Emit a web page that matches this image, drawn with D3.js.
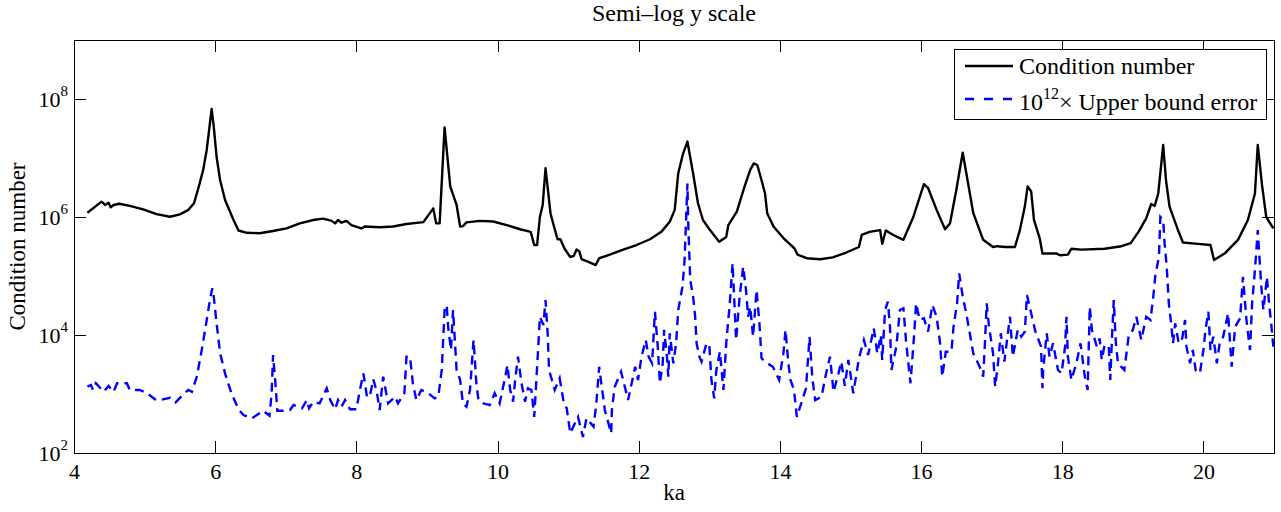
<!DOCTYPE html>
<html lang="en">
<head>
<meta charset="UTF-8">
<title>Semi-log y scale</title>
<script src="https://cdn.jsdelivr.net/npm/d3@7"></script>
<style>
	body { margin: 0; background: #fff; }
	svg { display: block; font-family: "Liberation Serif", "Times New Roman", serif; }
	.axis path, .axis line { stroke: #000; shape-rendering: crispEdges; }
	.axis text { font-size: 22px; fill: #000; font-family: "Liberation Serif", serif; }
</style>
</head>
<body>
<script>
	// condition number
	const kaCond = [4.19,4.39,4.44,4.49,4.52,4.56,4.64,4.79,4.98,5.17,
		5.36,5.50,5.62,5.70,5.74,5.78,5.83,5.88,5.92,5.95,
		5.98,6.02,6.07,6.14,6.26,6.33,6.45,6.63,6.82,7.01,
		7.20,7.39,7.53,7.65,7.70,7.74,7.79,7.86,7.93,8.07,
		8.12,8.33,8.52,8.71,8.95,9.09,9.13,9.18,9.25,9.33,
		9.42,9.47,9.51,9.56,9.75,9.94,10.13,10.32,10.47,10.52,
		10.56,10.60,10.64,10.68,10.72,10.75,10.80,10.85,10.89,10.95,
		11.03,11.08,11.12,11.16,11.19,11.28,11.39,11.44,11.59,11.78,
		11.97,12.16,12.32,12.44,12.51,12.56,12.63,12.69,12.77,12.84,
		12.91,13.01,13.14,13.24,13.27,13.39,13.50,13.58,13.63,13.68,
		13.74,13.79,13.82,13.91,14.05,14.21,14.25,14.38,14.57,14.75,
		14.94,15.12,15.16,15.27,15.42,15.45,15.50,15.60,15.75,15.89,
		16.04,16.10,16.22,16.34,16.41,16.50,16.59,16.65,16.74,16.88,
		17.02,17.08,17.19,17.33,17.40,17.47,17.51,17.56,17.60,17.68,
		17.72,17.92,17.97,18.08,18.13,18.27,18.60,18.84,18.97,19.08,
		19.19,19.26,19.31,19.36,19.43,19.47,19.52,19.64,19.71,19.92,
		20.10,20.15,20.30,20.49,20.63,20.73,20.77,20.83,20.89,20.99];
	const condNumber = [1.18e6,1.82e6,1.6e6,1.75e6,1.46e6,1.6e6,1.68e6,1.54e6,1.35e6,1.12e6,
		1.01e6,1.11e6,1.32e6,1.71e6,2.5e6,3.7e6,6.3e6,1.37e7,3.4e7,6.8e7,
		3.4e7,1.05e7,4.2e6,1.94e6,8.9e5,5.9e5,5.4e5,5.3e5,5.8e5,6.4e5,
		7.8e5,8.9e5,9.4e5,8.6e5,7.8e5,8.9e5,8.0e5,8.6e5,7.3e5,6.4e5,
		6.9e5,6.7e5,6.9e5,7.6e5,8.2e5,1.4e6,7.8e5,7.8e5,3.3e7,3.3e6,
		1.6e6,6.9e5,7.0e5,8.1e5,8.6e5,8.4e5,7.3e5,6.2e5,5.6e5,3.35e5,
		3.35e5,1.0e6,1.6e6,6.7e6,2.5e6,1.16e6,6.9e5,4.2e5,4.2e5,2.9e5,
		2.1e5,2.2e5,2.8e5,2.6e5,1.94e5,1.75e5,1.53e5,2.0e5,2.3e5,2.8e5,
		3.35e5,4.2e5,5.6e5,8.3e5,1.32e6,5.5e6,1.2e7,1.9e7,5.5e6,1.71e6,
		8.9e5,6.0e5,3.8e5,4.6e5,7.3e5,1.23e6,3.3e6,6.3e6,8.1e6,7.6e6,
		4.2e6,2.5e6,1.16e6,6.9e5,4.4e5,2.9e5,2.3e5,2.0e5,1.92e5,2.07e5,
		2.5e5,3.1e5,5.0e5,5.6e5,6.0e5,3.5e5,5.9e5,5.0e5,4.1e5,1.0e6,
		3.6e6,3.1e6,1.32e6,6.2e5,7.8e5,2.9e6,1.23e7,4.8e6,1.16e6,4.1e5,
		3.1e5,3.2e5,3.1e5,3.1e5,6.0e5,1.5e6,3.3e6,2.7e6,8.9e5,4.4e5,
		2.4e5,2.4e5,2.25e5,2.3e5,2.9e5,2.8e5,2.9e5,3.2e5,3.6e5,5.6e5,
		9.5e5,1.66e6,1.54e6,2.5e6,1.66e7,4.2e6,1.5e6,6.0e5,3.7e5,3.5e5,
		3.35e5,1.87e5,2.4e5,4.1e5,8.9e5,2.5e6,1.66e7,3.5e6,1.0e6,6.4e5];

	// 10^12 x upper bound error
	const kaErr = [4.19,4.24,4.27,4.31,4.42,4.49,4.56,4.61,4.75,4.79,4.84,4.93,5.03,5.16,5.26,5.36,5.44,5.57,5.62,5.67,
		5.74,5.81,5.88,5.93,5.96,5.98,6.02,6.07,6.14,6.23,6.33,6.40,6.52,6.59,6.68,6.77,6.80,6.82,6.85,6.88,
		6.96,7.06,7.11,7.23,7.30,7.33,7.39,7.48,7.58,7.63,7.70,7.74,7.79,7.84,7.91,8.00,8.05,8.10,8.15,8.19,
		8.24,8.29,8.33,8.38,8.45,8.55,8.59,8.68,8.71,8.76,8.80,8.85,8.92,9.02,9.11,9.16,9.21,9.25,9.28,9.30,
		9.34,9.37,9.42,9.47,9.51,9.56,9.61,9.66,9.70,9.73,9.80,9.89,9.96,10.03,10.10,10.14,10.18,10.22,10.25,10.29,
		10.34,10.39,10.43,10.48,10.52,10.55,10.58,10.60,10.65,10.68,10.71,10.73,10.81,10.88,10.94,10.98,11.03,11.14,11.21,11.26,
		11.36,11.40,11.44,11.47,11.52,11.61,11.62,11.66,11.75,11.85,11.90,11.95,11.99,12.04,12.10,12.14,12.19,12.23,12.27,12.30,
		12.34,12.36,12.40,12.42,12.44,12.49,12.53,12.56,12.62,12.65,12.69,12.70,12.73,12.77,12.80,12.82,12.86,12.89,12.96,13.00,
		13.03,13.07,13.10,13.15,13.20,13.24,13.29,13.33,13.38,13.43,13.48,13.52,13.55,13.58,13.62,13.67,13.71,13.74,13.81,13.90,
		13.99,14.05,14.08,14.12,14.15,14.20,14.24,14.31,14.37,14.42,14.46,14.50,14.59,14.65,14.71,14.76,14.83,14.87,14.92,14.97,
		15.04,15.12,15.19,15.25,15.33,15.38,15.43,15.45,15.49,15.53,15.56,15.58,15.65,15.70,15.75,15.79,15.85,15.90,15.93,15.98,
		16.04,16.10,16.16,16.22,16.27,16.30,16.35,16.43,16.46,16.51,16.54,16.59,16.64,16.69,16.74,16.83,16.88,16.90,16.93,16.96,
		17.02,17.05,17.09,17.13,17.18,17.23,17.26,17.30,17.37,17.42,17.47,17.50,17.56,17.62,17.70,17.72,17.73,17.78,17.82,17.87,
		17.94,17.99,18.04,18.06,18.08,18.13,18.20,18.26,18.32,18.36,18.39,18.42,18.49,18.53,18.56,18.60,18.66,18.68,18.71,18.73,
		18.76,18.79,18.88,18.91,18.94,19.00,19.05,19.12,19.19,19.25,19.29,19.32,19.37,19.39,19.43,19.45,19.48,19.51,19.54,19.57,
		19.60,19.65,19.70,19.74,19.76,19.81,19.85,19.89,19.95,20.00,20.03,20.07,20.10,20.14,20.19,20.23,20.28,20.33,20.35,20.40,
		20.45,20.52,20.56,20.61,20.66,20.69,20.73,20.77,20.79,20.82,20.85,20.90,20.93,20.96,20.99];
	const errBound = [1330,1420,1170,1520,1090,1370,1090,1520,1520,1170,1170,1170,1050,790,810,865,720,1050,1170,1090,
		1970,5570,1.8e4,4.2e4,6.2e4,4.5e4,1.58e4,4890,2240,1030,550,440,387,440,520,430,1030,4580,1730,520,
		520,535,650,573,790,573,740,695,1250,790,550,790,610,790,550,550,1170,2240,900,900,
		1780,1090,535,1970,695,900,695,1030,4290,4290,1520,790,1170,1030,845,900,2550,2.65e4,3.2e4,1.38e4,
		5570,2.65e4,2550,1730,695,610,1170,8230,1520,790,695,650,1030,695,1730,3100,1170,740,1730,4290,
		1520,740,1250,1170,410,1730,7230,2.04e4,1.48e4,3.9e4,1.07e4,2550,1170,1850,695,573,216,410,187,387,
		280,695,2900,1520,535,216,535,1330,2390,790,1520,2900,1730,4290,8230,4290,3310,2.48e4,6340,1520,
		3310,1.22e4,4290,1970,1.07e4,3310,7230,2.65e4,6.6e4,1.87e5,3.7e6,8.9e5,8.6e4,4.5e4,2.04e4,7230,4290,3530,7230,6770,
		1730,845,2550,5210,1170,7230,3.44e4,1.64e5,8230,4.5e4,1.44e5,5.8e4,2.04e4,3.0e4,9350,5.8e4,1.58e4,4030,3390,2900,
		1730,4890,1.22e4,3310,1730,1170,410,740,1250,9350,1850,790,900,2100,4290,1090,2240,3530,1370,3770,
		1030,4030,8230,4580,1.3e4,4890,1.0e4,3770,2.65e4,3.66e4,1.38e4,2550,6340,2.65e4,2.84e4,7230,1520,9350,3.44e4,1.8e4,
		1.92e4,1.14e4,3.22e4,2.04e4,7230,1970,5210,5210,1.38e4,3.44e4,1.11e5,4.5e4,2.33e4,1.07e4,4890,2900,1970,5570,3.44e4,1.48e4,
		4890,1330,3310,1.07e4,3530,1.07e4,2.04e4,4290,1.22e4,9350,1.14e4,4.76e4,2.33e4,1.14e4,6340,1250,2550,1.07e4,4290,7230,
		2550,2240,6340,2.04e4,4290,1730,3310,7230,1970,1170,3.0e4,1.22e4,6340,8790,3770,6770,6340,1730,1.22e4,3.9e4,
		7230,3310,2550,4890,9350,1.22e4,2.04e4,8230,2.04e4,1.8e4,4.5e4,1.04e5,2.12e5,1.0e6,8.9e5,3.6e5,1.44e5,3.44e4,1.68e4,7230,
		1.58e4,7230,8790,1.8e4,6340,3310,5570,2550,2240,5570,1.22e4,2.48e4,5570,9350,3310,7230,9350,1.8e4,2.33e4,2900,
		1.38e4,1.92e4,9.7e4,1.8e4,5570,3.44e4,1.26e5,6.0e5,2.43e5,6.6e4,2.65e4,9.7e4,3.44e4,1.58e4,6340];

	const xTicks = [4, 6, 8, 10, 12, 14, 16, 18, 20];
	const yTickExp = [2, 4, 6, 8];

	const W = 1281, H = 512;
	const margin = { left: 74, right: 7, top: 40, bottom: 59 };
	const iw = W - margin.left - margin.right;
	const ih = H - margin.top - margin.bottom;

	const svg = d3.select("body").append("svg")
		.attr("width", W)
		.attr("height", H);

	const x = d3.scaleLinear().domain([4, 21]).range([0, iw]);
	const y = d3.scaleLog().domain([1e2, 1e9]).range([ih, 0]);

	const g = svg.append("g")
		.attr("transform", `translate(${margin.left},${margin.top})`);

	g.append("clipPath").attr("id", "clip")
		.append("rect").attr("width", iw).attr("height", ih);

	const line = d3.line()
		.x(d => x(d[0]))
		.y(d => y(d[1]));

	const condPts = kaCond.map((k, i) => [k, condNumber[i]]);
	const errPts = kaErr.map((k, i) => [k, errBound[i]]);

	g.append("path")
		.datum(errPts)
		.attr("clip-path", "url(#clip)")
		.attr("fill", "none")
		.attr("stroke", "#0000ff")
		.attr("stroke-width", 2.4)
		.attr("stroke-dasharray", "9,6")
		.attr("d", line);

	g.append("path")
		.datum(condPts)
		.attr("clip-path", "url(#clip)")
		.attr("fill", "none")
		.attr("stroke", "#000")
		.attr("stroke-width", 2.4)
		.attr("stroke-linejoin", "round")
		.attr("d", line);

	// axes: ticks point inwards on all four sides
	const yTicks = yTickExp.map(e => Math.pow(10, e));

	g.append("g").attr("class", "axis")
		.attr("transform", `translate(0,${ih})`)
		.call(d3.axisBottom(x).tickValues(xTicks).tickSize(-12).tickPadding(10).tickFormat(d3.format("d")))
		.call(a => a.select(".domain").remove());

	g.append("g").attr("class", "axis")
		.call(d3.axisTop(x).tickValues(xTicks).tickSize(-12).tickFormat(""))
		.call(a => a.select(".domain").remove());

	g.append("g").attr("class", "axis")
		.call(d3.axisLeft(y).tickValues(yTicks).tickSize(-12).tickFormat(""))
		.call(a => a.select(".domain").remove());

	g.append("g").attr("class", "axis")
		.attr("transform", `translate(${iw},0)`)
		.call(d3.axisRight(y).tickValues(yTicks).tickSize(-12).tickFormat(""))
		.call(a => a.select(".domain").remove());

	// y tick labels with superscript exponents
	const yl = g.append("g").selectAll("text")
		.data(yTickExp)
		.join("text")
		.attr("x", -6)
		.attr("y", d => y(Math.pow(10, d)) + 8)
		.attr("text-anchor", "end")
		.style("font-size", "22px");
	yl.append("tspan").text("10");
	yl.append("tspan").attr("dy", -11).style("font-size", "15px").text(d => d);

	g.append("rect")
		.attr("width", iw).attr("height", ih)
		.attr("fill", "none")
		.attr("stroke", "#000")
		.attr("stroke-width", 1)
		.attr("shape-rendering", "crispEdges");

	// titles
	svg.append("text")
		.attr("x", margin.left + iw / 2).attr("y", 21)
		.attr("text-anchor", "middle")
		.style("font-size", "24px")
		.text("Semi\u2013log y scale");

	svg.append("text")
		.attr("x", margin.left + iw / 2).attr("y", 500)
		.attr("text-anchor", "middle")
		.style("font-size", "23px")
		.text("ka");

	svg.append("text")
		.attr("transform", `translate(25,${margin.top + ih / 2}) rotate(-90)`)
		.attr("text-anchor", "middle")
		.style("font-size", "23px")
		.text("Condition number");

	// legend
	const lg = svg.append("g").attr("transform", "translate(954,49)");
	lg.append("rect")
		.attr("width", 312).attr("height", 70)
		.attr("fill", "#fff").attr("stroke", "#000")
		.attr("shape-rendering", "crispEdges");
	lg.append("line")
		.attr("x1", 11).attr("x2", 59).attr("y1", 17).attr("y2", 17)
		.attr("stroke", "#000").attr("stroke-width", 2.4);
	lg.append("line")
		.attr("x1", 11).attr("x2", 59).attr("y1", 50).attr("y2", 50)
		.attr("stroke", "#0000ff").attr("stroke-width", 2.4)
		.attr("stroke-dasharray", "9,10");
	lg.append("text")
		.attr("x", 65).attr("y", 25)
		.style("font-size", "24px")
		.text("Condition number");
	const t2 = lg.append("text")
		.attr("x", 65).attr("y", 61)
		.style("font-size", "24px");
	t2.append("tspan").text("10");
	t2.append("tspan").attr("dy", -11).style("font-size", "16px").text("12");
	t2.append("tspan").attr("dy", 11).text("\u00d7 Upper bound error");
</script>
</body>
</html>
